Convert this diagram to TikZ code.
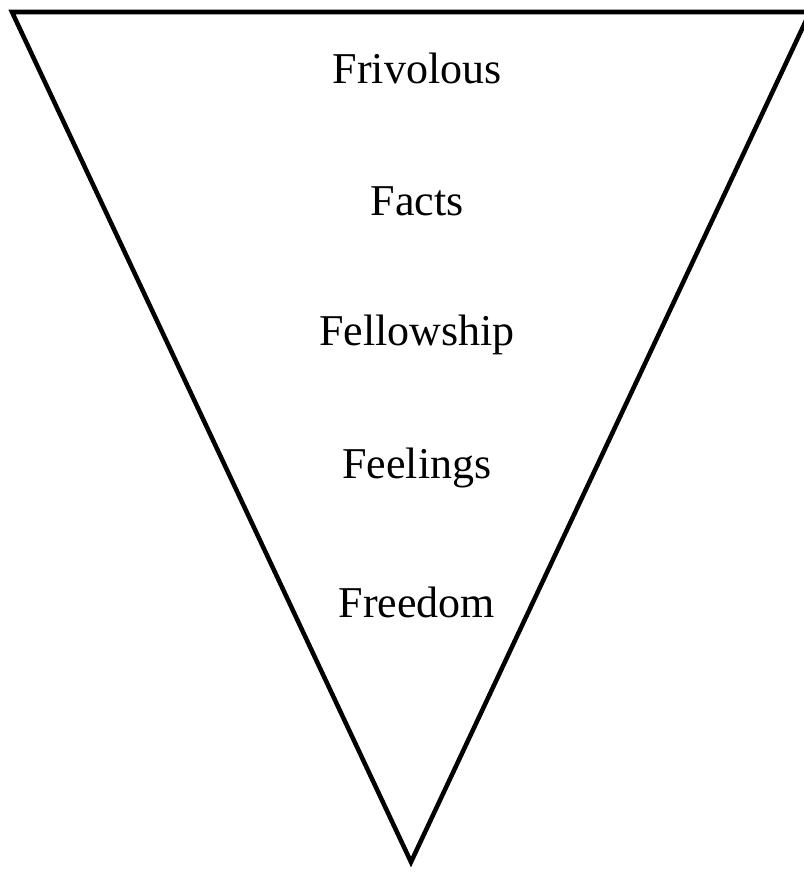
\documentclass[tikz,border=0pt]{standalone}
\usepackage{fontspec}
\setmainfont{Liberation Serif}
\usetikzlibrary{positioning}

\begin{document}
\begin{tikzpicture}[
    x=0.75pt, y=-0.75pt,
    every node/.style={font=\fontsize{33}{38}\selectfont},
    level/.style={inner sep=0pt, anchor=center},
    funnel/.style={draw, line width=3.4pt, line join=miter},
]
\useasboundingbox (0,0) rectangle (804,872);
\coordinate (tl) at (12,12);
\coordinate (tr) at (810,12);
\coordinate (tip) at (411,862);
\draw[funnel] (tl) -- (tr) -- (tip) -- cycle;
\node[level] (frivolous) at (417,68) {Frivolous};
\node[level] (facts) at (417,201) {Facts};
\node[level] (fellowship) at (417,335) {Fellowship};
\node[level] (feelings) at (417,468) {Feelings};
\node[level] (freedom) at (417,602) {Freedom};
\end{tikzpicture}
\end{document}
